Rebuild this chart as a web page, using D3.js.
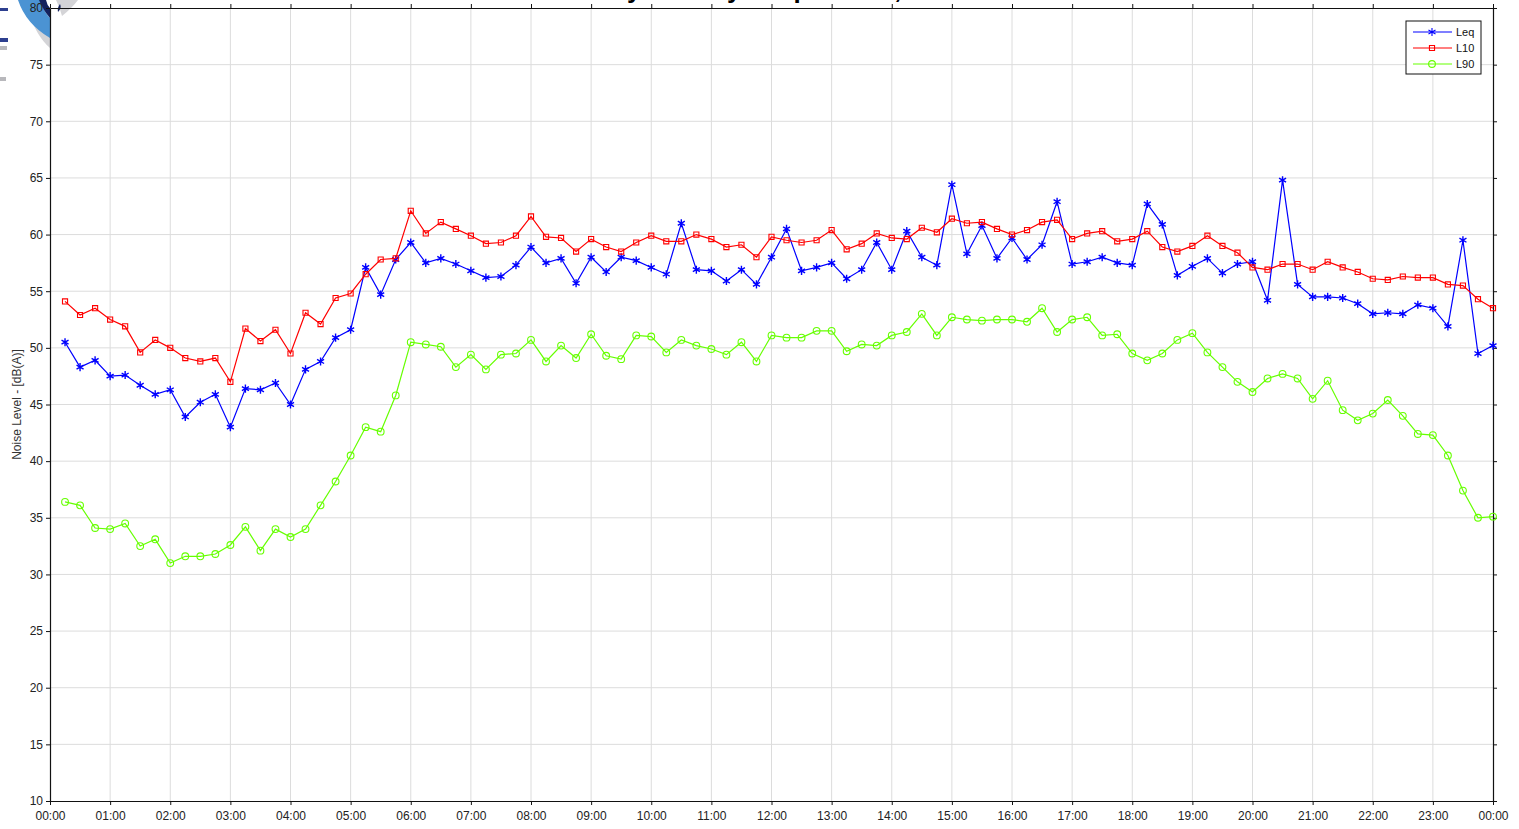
<!DOCTYPE html>
<html>
<head>
<meta charset="utf-8">
<script src="https://cdn.jsdelivr.net/npm/d3@7"></script>
<style>
  body { margin: 0; background: #fff; }
  svg { display: block; font-family: "Liberation Sans", Arial, sans-serif; }
</style>
</head>
<body>
<svg id="chart" width="1519" height="829"></svg>
<script>
// 15 minute intervals, first reading at 00:15, last at 24:00
var minutes = d3.range(1, 97).map(function (i) { return i * 15; });

var leq = [50.5, 48.3, 48.9, 47.5, 47.6, 46.7, 45.9, 46.3, 43.9, 45.2,
  45.9, 43.0, 46.4, 46.3, 46.9, 45.0, 48.1, 48.8, 50.9, 51.6,
  57.1, 54.7, 57.8, 59.3, 57.5, 57.9, 57.4, 56.8, 56.2, 56.3,
  57.3, 58.9, 57.5, 57.9, 55.7, 58.0, 56.7, 58.0, 57.7, 57.1,
  56.5, 61.0, 56.9, 56.8, 55.9, 56.9, 55.6, 58.0, 60.5, 56.8,
  57.1, 57.5, 56.1, 56.9, 59.3, 56.9, 60.3, 58.0, 57.3, 64.4,
  58.3, 60.8, 57.9, 59.7, 57.8, 59.1, 62.9, 57.4, 57.6, 58.0,
  57.5, 57.3, 62.7, 60.9, 56.4, 57.2, 57.9, 56.6, 57.4, 57.6,
  54.2, 64.8, 55.6, 54.5, 54.5, 54.4, 53.9, 53.0, 53.1, 53.0,
  53.8, 53.5, 51.9, 59.5, 49.5, 50.2];

var l10 = [54.1, 52.9, 53.5, 52.5, 51.9, 49.6, 50.7, 50.0, 49.1, 48.8,
  49.1, 47.0, 51.7, 50.6, 51.6, 49.5, 53.1, 52.1, 54.4, 54.8,
  56.5, 57.8, 57.9, 62.1, 60.1, 61.1, 60.5, 59.9, 59.2, 59.3,
  59.9, 61.6, 59.8, 59.7, 58.5, 59.6, 58.9, 58.5, 59.3, 59.9,
  59.4, 59.4, 60.0, 59.6, 58.9, 59.1, 58.0, 59.8, 59.5, 59.3,
  59.5, 60.4, 58.7, 59.2, 60.1, 59.7, 59.6, 60.6, 60.2, 61.4,
  61.0, 61.1, 60.5, 60.0, 60.4, 61.1, 61.3, 59.6, 60.1, 60.3,
  59.4, 59.6, 60.3, 58.9, 58.5, 59.0, 59.9, 59.0, 58.4, 57.1,
  56.9, 57.4, 57.4, 56.9, 57.6, 57.1, 56.7, 56.1, 56.0, 56.3,
  56.2, 56.2, 55.6, 55.5, 54.3, 53.5];

var l90 = [36.4, 36.1, 34.1, 34.0, 34.5, 32.5, 33.1, 31.0, 31.6, 31.6,
  31.8, 32.6, 34.2, 32.1, 34.0, 33.3, 34.0, 36.1, 38.2, 40.5,
  43.0, 42.6, 45.8, 50.5, 50.3, 50.1, 48.3, 49.4, 48.1, 49.4,
  49.5, 50.7, 48.8, 50.2, 49.1, 51.2, 49.3, 49.0, 51.1, 51.0,
  49.6, 50.7, 50.2, 49.9, 49.4, 50.5, 48.8, 51.1, 50.9, 50.9,
  51.5, 51.5, 49.7, 50.3, 50.2, 51.1, 51.4, 53.0, 51.1, 52.7,
  52.5, 52.4, 52.5, 52.5, 52.3, 53.5, 51.4, 52.5, 52.7, 51.1,
  51.2, 49.5, 48.9, 49.5, 50.7, 51.3, 49.6, 48.3, 47.0, 46.1,
  47.3, 47.7, 47.3, 45.5, 47.1, 44.5, 43.6, 44.2, 45.4, 44.0,
  42.4, 42.3, 40.5, 37.4, 35.0, 35.1];

var seriesNames = ["Leq", "L10", "L90"];
var seriesColors = ["#0000ff", "#ff0000", "#66ff00"];
var yTicks = [10, 15, 20, 25, 30, 35, 40, 45, 50, 55, 60, 65, 70, 75, 80];

var margin = { left: 50, top: 8, right: 26, bottom: 28 };
var width = 1519 - margin.left - margin.right;
var height = 829 - margin.top - margin.bottom;

var svg = d3.select("#chart");

// Title, mostly cut off by the top edge in the source image
svg.append("text")
  .attr("x", 559).attr("y", -2)
  .style("font-size", "26px").style("font-weight", "bold")
  .text("Hourly Activity Graph West, Week 1");

// logo remnant in the top-left corner
var logo = svg.append("g");
logo.append("path").attr("d", "M56,0 L78,0 Q72,8 62,16 Q60,8 56,0 Z").attr("fill", "#d4d4d7");
logo.append("path").attr("d", "M28,10 Q36,36 50,48 L50,36 Q38,28 32,8 Z").attr("fill", "#d4d4d7");
logo.append("path").attr("d", "M18,0 L40,0 Q44,12 50,18 L50,38 Q26,24 18,0 Z").attr("fill", "#4b93d3");
logo.append("path").attr("d", "M39,0 L46,0 Q47,5 50,8 L50,18 Q43,10 39,0 Z").attr("fill", "#14225e");
logo.append("path").attr("d", "M60,4 Q62,8 58,12 Q57,8 60,4 Z").attr("fill", "#14225e");
logo.append("rect").attr("x", 0).attr("y", 8).attr("width", 8).attr("height", 3).attr("fill", "#2d3f8f");
logo.append("rect").attr("x", 0).attr("y", 38).attr("width", 8).attr("height", 4).attr("fill", "#2d3f8f");
logo.append("rect").attr("x", 0).attr("y", 46).attr("width", 7).attr("height", 4).attr("fill", "#b8b8bc");
logo.append("rect").attr("x", 0).attr("y", 77).attr("width", 6).attr("height", 4).attr("fill", "#b8b8bc");

var g = svg.append("g").attr("transform", "translate(" + margin.left + "," + margin.top + ")");

var x = d3.scaleLinear().domain([0, 1440]).range([0, width]);
var y = d3.scaleLinear().domain([10, 80]).range([height, 0]);

function fmtTime(m) {
  var h = Math.floor(m / 60) % 24;
  return (h < 10 ? "0" : "") + h + ":00";
}
var xTicks = d3.range(0, 1441, 60);

// grid
g.append("g").selectAll("line").data(xTicks.slice(1, -1)).enter().append("line")
  .attr("x1", function (d) { return x(d); }).attr("x2", function (d) { return x(d); })
  .attr("y1", 0).attr("y2", height)
  .attr("stroke", "#dcdcdc").attr("stroke-width", 1);
g.append("g").selectAll("line").data(yTicks.slice(1, -1)).enter().append("line")
  .attr("y1", function (d) { return y(d); }).attr("y2", function (d) { return y(d); })
  .attr("x1", 0).attr("x2", width)
  .attr("stroke", "#dcdcdc").attr("stroke-width", 1);

// axes
function styleAxis(sel, showText) {
  sel.selectAll("path").attr("stroke", "#111").attr("stroke-width", 1.2);
  sel.selectAll("line").attr("stroke", "#111");
  sel.selectAll("text").style("font-size", "12px").attr("fill", "#222");
  if (!showText) sel.selectAll("text").remove();
}
g.append("g").attr("transform", "translate(0," + height + ")")
  .call(d3.axisBottom(x).tickValues(xTicks).tickFormat(fmtTime).tickSize(4).tickPadding(6).tickSizeOuter(0))
  .call(styleAxis, true);
g.append("g")
  .call(d3.axisTop(x).tickValues(xTicks).tickSize(4).tickSizeOuter(0))
  .call(styleAxis, false);
g.append("g")
  .call(d3.axisLeft(y).tickValues(yTicks).tickSize(4).tickSizeOuter(0))
  .call(styleAxis, true);
g.append("g").attr("transform", "translate(" + width + ",0)")
  .call(d3.axisRight(y).tickValues(yTicks).tickSize(4).tickSizeOuter(0))
  .call(styleAxis, false);

g.append("text")
  .attr("transform", "rotate(-90)")
  .attr("x", -height / 2).attr("y", -29)
  .attr("text-anchor", "middle")
  .style("font-size", "12px").attr("fill", "#333")
  .text("Noise Level - [dB(A)]");

// lines and markers
var line = d3.line()
  .x(function (d, i) { return x(minutes[i]); })
  .y(function (d) { return y(d); });

var data = [leq, l10, l90];
var symbols = [d3.symbolAsterisk, d3.symbolSquare, d3.symbolCircle];
var symSizes = [46, 26, 36];

data.forEach(function (vals, k) {
  g.append("path").datum(vals)
    .attr("d", line)
    .attr("fill", "none")
    .attr("stroke", seriesColors[k])
    .attr("stroke-width", 1.2);
  g.append("g").selectAll("path").data(vals).enter().append("path")
    .attr("transform", function (d, i) { return "translate(" + x(minutes[i]) + "," + y(d) + ")"; })
    .attr("d", d3.symbol(symbols[k], symSizes[k]))
    .attr("fill", k === 0 ? seriesColors[k] : "none")
    .attr("stroke", seriesColors[k])
    .attr("stroke-width", k === 0 ? 1.4 : 1.1);
});

// legend
var lg = svg.append("g").attr("transform", "translate(1406,21)");
lg.append("rect").attr("width", 75).attr("height", 53)
  .attr("fill", "#fff").attr("stroke", "#111").attr("stroke-width", 1);
seriesNames.forEach(function (name, k) {
  var yy = 11 + k * 16;
  lg.append("line").attr("x1", 7).attr("x2", 46).attr("y1", yy).attr("y2", yy)
    .attr("stroke", seriesColors[k]).attr("stroke-width", 1.2);
  lg.append("path").attr("transform", "translate(26," + yy + ")")
    .attr("d", d3.symbol(symbols[k], symSizes[k]))
    .attr("fill", k === 0 ? seriesColors[k] : "none")
    .attr("stroke", seriesColors[k]).attr("stroke-width", 1.1);
  lg.append("text").attr("x", 50).attr("y", yy + 4)
    .style("font-size", "11px").attr("fill", "#111").text(name);
});
</script>
</body>
</html>
